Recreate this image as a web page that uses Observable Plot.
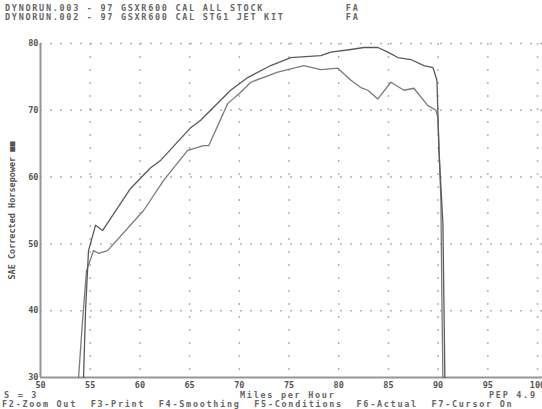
<!DOCTYPE html>
<html>
<head>
<meta charset="utf-8">
<script src="https://cdn.jsdelivr.net/npm/d3@7"></script>
<script src="https://cdn.jsdelivr.net/npm/@observablehq/plot@0.6"></script>
<style>
  html, body { margin: 0; padding: 0; background: #fff; }
  #wrap { position: relative; width: 542px; height: 409px; overflow: hidden; background: #fff; }
  .dos { font-family: "DejaVu Sans Mono", monospace; font-weight: bold; font-size: 8.5px; letter-spacing: 1.7px; color: #666; white-space: pre; position: absolute; line-height: 9px; }
  #chart { position: absolute; left: 0; top: 0; }
</style>
</head>
<body>
<div id="wrap">
  <div id="chart"></div>
  <div class="dos" style="left:5px; top:4px;">DYNORUN.003 - 97 GSXR600 CAL ALL STOCK            FA
DYNORUN.002 - 97 GSXR600 CAL STG1 JET KIT         FA</div>
  <div class="dos" style="left:4px; top:391px;">S = 3</div>
  <div class="dos" style="left:240px; top:391px;">Miles per Hour</div>
  <div class="dos" style="left:489px; top:391px;">PEP 4.9</div>
  <div class="dos" style="left:2px; top:400px;">F2-Zoom Out  F3-Print  F4-Smoothing  F5-Conditions  F6-Actual  F7-Cursor On</div>
</div>
<script>
// Series
const jetMph = [54.33, 54.53, 54.83, 55.54, 56.24, 59.06, 61.08, 62.08, 65.11, 66.11, 69.13, 70.85, 73.16, 75.18, 78.20, 79.20, 81.22, 82.53, 83.94, 84.94, 85.95, 87.26, 88.57, 89.48, 89.88, 90.08, 90.48, 90.58, 90.68];
const jetHp  = [30.0, 40.0, 49.0, 52.8, 52.0, 58.3, 61.4, 62.5, 67.4, 68.5, 73.0, 74.9, 76.7, 77.9, 78.2, 78.7, 79.1, 79.4, 79.4, 78.7, 77.9, 77.6, 76.7, 76.4, 74.5, 64.0, 53.1, 41.5, 30.0];
const stockMph = [53.83, 54.23, 54.63, 55.34, 55.84, 56.75, 60.37, 62.39, 64.80, 66.41, 66.92, 68.83, 70.14, 71.15, 73.87, 76.49, 78.20, 79.91, 81.22, 82.23, 82.93, 83.94, 85.25, 86.56, 87.56, 88.97, 89.78, 89.98, 90.28, 90.38, 90.48];
const stockHp  = [30.0, 38.5, 46.0, 49.0, 48.6, 49.0, 55.0, 59.5, 64.0, 64.7, 64.7, 71.0, 72.7, 74.2, 75.7, 76.7, 76.1, 76.3, 74.5, 73.4, 73.0, 71.7, 74.2, 73.0, 73.3, 70.7, 70.0, 68.9, 56.5, 41.5, 30.0];
const xTicks = [50, 55, 60, 65, 70, 75, 80, 85, 90, 95, 100];
const yTicks = [30, 40, 50, 60, 70, 80];
const yLabel = "SAE Corrected Horsepower \u25A0\u25A0";

const jet = jetMph.map((x, i) => ({x, y: jetHp[i]}));
const stock = stockMph.map((x, i) => ({x, y: stockHp[i]}));

const chart = Plot.plot({
  width: 542,
  height: 392,
  marginLeft: 40,
  marginRight: 0,
  marginTop: 43,
  marginBottom: 15,
  style: {fontFamily: "DejaVu Sans Mono, monospace", fontWeight: "bold", fontSize: "8.5px", color: "#666", background: "#fff"},
  x: {domain: [50, 100.5]},
  y: {domain: [30, 80]},
  marks: [
    Plot.ruleY(yTicks.slice(1), {stroke: "#b5b5b5", strokeWidth: 1.5, strokeDasharray: "2,8"}),
    Plot.ruleX(xTicks.slice(1), {stroke: "#b5b5b5", strokeWidth: 1.5, strokeDasharray: "2,11"}),
    Plot.ruleX([50], {stroke: "#959595", strokeWidth: 2}),
    Plot.ruleY([30], {stroke: "#959595", strokeWidth: 2}),
    Plot.line(stock, {x: "x", y: "y", stroke: "#7a7a7a", strokeWidth: 1.3}),
    Plot.line(jet, {x: "x", y: "y", stroke: "#5a5a5a", strokeWidth: 1.3}),
    Plot.axisX(xTicks, {anchor: "bottom", tickSize: 0, tickPadding: 4, label: null, fontSize: 8.5, fill: "#555"}),
    Plot.axisY(yTicks, {anchor: "left", tickSize: 0, tickPadding: 2, label: yLabel, labelAnchor: "center", labelArrow: "none", labelOffset: 32, fontSize: 8.5, fill: "#555"})
  ]
});
document.getElementById("chart").appendChild(chart);
</script>
</body>
</html>
